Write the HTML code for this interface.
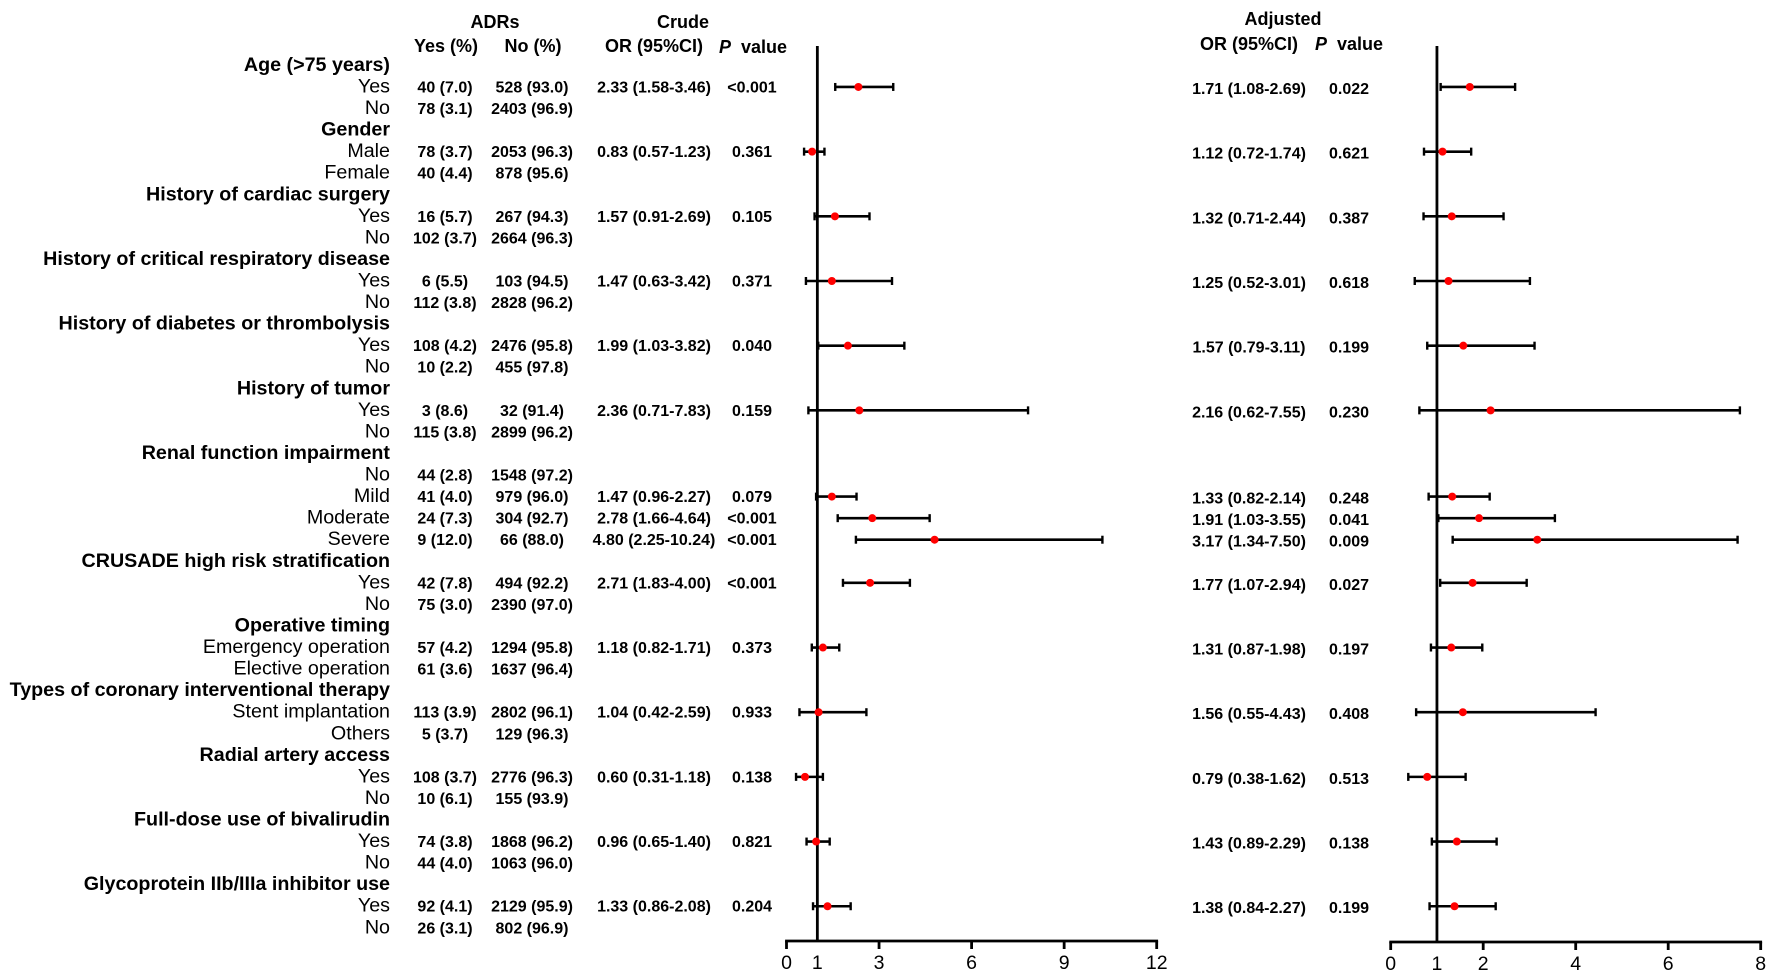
<!DOCTYPE html>
<html lang="en">
<head>
<meta charset="utf-8">
<title>Forest plot of ADR risk factors</title>
<style>
html,body{margin:0;padding:0;background:#fff;width:1772px;height:977px;overflow:hidden}
svg{display:block}
text{font-family:"Liberation Sans",Arial,sans-serif;fill:#000}
.h{font-weight:bold;font-size:18px}
.lab{font-size:19.7px;text-anchor:end}
.labb{font-size:19.7px;font-weight:bold;text-anchor:end}
.v{font-size:16px;font-weight:bold;text-anchor:middle}
.t{font-size:19.5px;text-anchor:middle}
</style>
</head>
<body>
<svg id="chart" xmlns="http://www.w3.org/2000/svg" width="1772" height="977" viewBox="0 0 1772 977">
  <rect x="0" y="0" width="1772" height="977" fill="#fff"></rect>
  <text class="h" x="495" y="28" text-anchor="middle">ADRs</text>
  <text class="h" x="683" y="28" text-anchor="middle">Crude</text>
  <text class="h" x="446" y="52" text-anchor="middle">Yes (%)</text>
  <text class="h" x="533" y="52" text-anchor="middle">No (%)</text>
  <text class="h" x="654" y="52" text-anchor="middle">OR (95%CI)</text>
  <text class="h" x="753" y="53" text-anchor="middle"><tspan font-style="italic">P</tspan>&#160;&#160;value</text>
  <text class="h" x="1283" y="25" text-anchor="middle">Adjusted</text>
  <text class="h" x="1249" y="50" text-anchor="middle">OR (95%CI)</text>
  <text class="h" x="1349" y="50" text-anchor="middle"><tspan font-style="italic">P</tspan>&#160;&#160;value</text>
  <g id="labels"></g>
  <g id="table"></g>
  <g id="crudePlot"></g>
  <g id="adjPlot"></g>
</svg>
<script>
const rowLabels = ["Age (>75 years)","Yes","No","Gender","Male","Female","History of cardiac surgery","Yes","No","History of critical respiratory disease","Yes","No","History of diabetes or thrombolysis","Yes","No","History of tumor","Yes","No","Renal function impairment","No","Mild","Moderate","Severe","CRUSADE high risk stratification","Yes","No","Operative timing","Emergency operation","Elective operation","Types of coronary interventional therapy","Stent implantation","Others","Radial artery access","Yes","No","Full-dose use of bivalirudin","Yes","No","Glycoprotein IIb/IIIa inhibitor use","Yes","No"];
const headingRows = [0,3,6,9,12,15,18,23,26,29,32,35,38];
const adrYes = [null,"40 (7.0)","78 (3.1)",null,"78 (3.7)","40 (4.4)",null,"16 (5.7)","102 (3.7)",null,"6 (5.5)","112 (3.8)",null,"108 (4.2)","10 (2.2)",null,"3 (8.6)","115 (3.8)",null,"44 (2.8)","41 (4.0)","24 (7.3)","9 (12.0)",null,"42 (7.8)","75 (3.0)",null,"57 (4.2)","61 (3.6)",null,"113 (3.9)","5 (3.7)",null,"108 (3.7)","10 (6.1)",null,"74 (3.8)","44 (4.0)",null,"92 (4.1)","26 (3.1)"];
const adrNo = [null,"528 (93.0)","2403 (96.9)",null,"2053 (96.3)","878 (95.6)",null,"267 (94.3)","2664 (96.3)",null,"103 (94.5)","2828 (96.2)",null,"2476 (95.8)","455 (97.8)",null,"32 (91.4)","2899 (96.2)",null,"1548 (97.2)","979 (96.0)","304 (92.7)","66 (88.0)",null,"494 (92.2)","2390 (97.0)",null,"1294 (95.8)","1637 (96.4)",null,"2802 (96.1)","129 (96.3)",null,"2776 (96.3)","155 (93.9)",null,"1868 (96.2)","1063 (96.0)",null,"2129 (95.9)","802 (96.9)"];
const effectRows = [1,4,7,10,13,16,20,21,22,24,27,30,33,36,39];
const crudeOR = [2.33,0.83,1.57,1.47,1.99,2.36,1.47,2.78,4.80,2.71,1.18,1.04,0.60,0.96,1.33];
const crudeLow = [1.58,0.57,0.91,0.63,1.03,0.71,0.96,1.66,2.25,1.83,0.82,0.42,0.31,0.65,0.86];
const crudeHigh = [3.46,1.23,2.69,3.42,3.82,7.83,2.27,4.64,10.24,4.00,1.71,2.59,1.18,1.40,2.08];
const crudeP = ["<0.001","0.361","0.105","0.371","0.040","0.159","0.079","<0.001","<0.001","<0.001","0.373","0.933","0.138","0.821","0.204"];
const adjOR = [1.71,1.12,1.32,1.25,1.57,2.16,1.33,1.91,3.17,1.77,1.31,1.56,0.79,1.43,1.38];
const adjLow = [1.08,0.72,0.71,0.52,0.79,0.62,0.82,1.03,1.34,1.07,0.87,0.55,0.38,0.89,0.84];
const adjHigh = [2.69,1.74,2.44,3.01,3.11,7.55,2.14,3.55,7.50,2.94,1.98,4.43,1.62,2.29,2.27];
const adjP = ["0.022","0.621","0.387","0.618","0.199","0.230","0.248","0.041","0.009","0.027","0.197","0.408","0.513","0.138","0.199"];
const crudeTicks = [0,1,3,6,9,12];
const adjTicks = [0,1,2,4,6,8];

const NS = "http://www.w3.org/2000/svg";
function make(parent, tag, props, txt) {
  const n = document.createElementNS(NS, tag);
  for (const k in props) n.setAttribute(k, props[k]);
  if (txt !== undefined) n.textContent = txt;
  parent.appendChild(n);
  return n;
}
function rowY(i) { return 65.4 + 21.56 * i; }
function fmt(v) { return v.toFixed(2); }

const labelsG = document.getElementById("labels");
rowLabels.forEach(function (lab, i) {
  const isHead = headingRows.indexOf(i) >= 0;
  const t = make(labelsG, "text", {class: isHead ? "labb" : "lab", x: 390, y: rowY(i) + 5.5}, lab);
  
  
});

const tableG = document.getElementById("table");
adrYes.forEach(function (val, i) {
  if (val === null) return;
  const a = make(tableG, "text", {class: "v", x: 445, y: rowY(i) + 5.5}, val);
  
  
  const b = make(tableG, "text", {class: "v", x: 532, y: rowY(i) + 5.5}, adrNo[i]);
  
  
});

function drawTexts(or, low, high, p, xOr, xP, dy, prefix) {
  effectRows.forEach(function (r, k) {
    const label = fmt(or[k]) + " (" + fmt(low[k]) + "-" + fmt(high[k]) + ")";
    const a = make(tableG, "text", {class: "v", x: xOr, y: rowY(r) + dy}, label);
    
    
    const b = make(tableG, "text", {class: "v", x: xP, y: rowY(r) + dy}, p[k]);
    
    
  });
}
drawTexts(crudeOR, crudeLow, crudeHigh, crudeP, 654, 752, 5.5, "crude");
drawTexts(adjOR, adjLow, adjHigh, adjP, 1249, 1349, 7, "adjusted");

function drawPlot(g, or, low, high, ticks, x0, pxPerUnit, axisY, prefix) {
  const sx = function (v) { return x0 + v * pxPerUnit; };
  const xEnd = sx(ticks[ticks.length - 1]);
  const axis = make(g, "line", {x1: x0 - 1.4, x2: xEnd + 1.4, y1: axisY, y2: axisY, stroke: "#000", "stroke-width": 2.8});
  
  
  ticks.forEach(function (tv) {
    if (tv !== 1) {
      const tk = make(g, "line", {x1: sx(tv), x2: sx(tv), y1: axisY, y2: axisY + 8, stroke: "#000", "stroke-width": 2.8});
      
      
    }
    const tl = make(g, "text", {class: "t", x: sx(tv), y: axisY + 28}, String(tv));
    
    
  });
  const ref = make(g, "line", {x1: sx(1), x2: sx(1), y1: 46, y2: axisY, stroke: "#000", "stroke-width": 2.8});
  
  
  effectRows.forEach(function (r, k) {
    const y = rowY(r);
    const m = make(g, "g", {});
    
    
    const ci = make(m, "line", {x1: sx(low[k]), x2: sx(high[k]), y1: y, y2: y, stroke: "#000", "stroke-width": 2.6});
    
    
    const c1 = make(m, "line", {x1: sx(low[k]), x2: sx(low[k]), y1: y - 4, y2: y + 4, stroke: "#000", "stroke-width": 2.4});
    
    
    const c2 = make(m, "line", {x1: sx(high[k]), x2: sx(high[k]), y1: y - 4, y2: y + 4, stroke: "#000", "stroke-width": 2.4});
    
    
    const dot = make(m, "circle", {cx: sx(or[k]), cy: y, r: 4, fill: "#f00"});
    
    
  });
}
drawPlot(document.getElementById("crudePlot"), crudeOR, crudeLow, crudeHigh, crudeTicks, 786.5, 30.85, 941, "crude");
drawPlot(document.getElementById("adjPlot"), adjOR, adjLow, adjHigh, adjTicks, 1390.7, 46.25, 942, "adjusted");
</script>
</body>
</html>
